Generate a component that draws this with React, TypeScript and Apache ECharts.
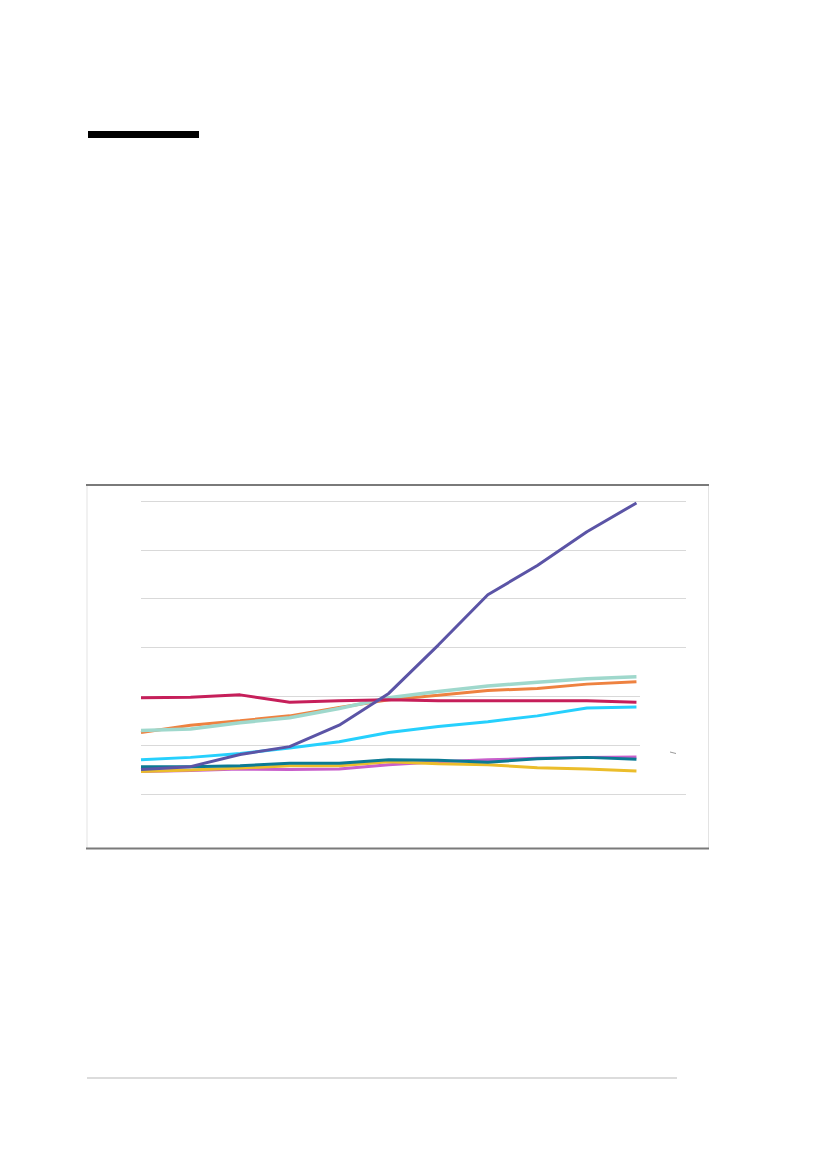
import { useEffect, useRef } from 'react';
import * as echarts from 'echarts';

// 12 slots on the x axis, the last one empty so the grid runs past the lines
const categories = ['1', '2', '3', '4', '5', '6', '7', '8', '9', '10', '11', '12'];

const yTicks = [0, 1, 2, 3, 4, 5, 6];

const orangeValues = [1.26, 1.41, 1.5, 1.6, 1.77, 1.93, 2.02, 2.12, 2.16, 2.25, 2.3];
const mintValues = [1.3, 1.33, 1.46, 1.56, 1.75, 1.97, 2.1, 2.21, 2.29, 2.36, 2.4];
const cyanValues = [0.7, 0.75, 0.83, 0.94, 1.07, 1.26, 1.38, 1.48, 1.6, 1.76, 1.78];
const magentaValues = [0.46, 0.48, 0.51, 0.5, 0.51, 0.6, 0.66, 0.7, 0.73, 0.75, 0.76];
const yellowValues = [0.46, 0.49, 0.53, 0.58, 0.58, 0.66, 0.62, 0.6, 0.54, 0.51, 0.47];
const tealValues = [0.56, 0.56, 0.58, 0.63, 0.63, 0.7, 0.69, 0.65, 0.72, 0.75, 0.71];
const redValues = [1.97, 1.98, 2.03, 1.88, 1.91, 1.93, 1.91, 1.91, 1.91, 1.91, 1.88];
const purpleValues = [0.5, 0.56, 0.81, 0.97, 1.41, 2.06, 3.05, 4.08, 4.68, 5.37, 5.96];

const seriesList = [
  { name: 'orange', color: '#ee8240', width: 3, data: orangeValues },
  { name: 'mint', color: '#9fd8cc', width: 3.5, data: mintValues },
  { name: 'cyan', color: '#26d0fd', width: 3, data: cyanValues },
  { name: 'magenta', color: '#c95fcb', width: 3, data: magentaValues },
  { name: 'yellow', color: '#ebbd2b', width: 3, data: yellowValues },
  { name: 'teal', color: '#0b7a93', width: 3, data: tealValues },
  { name: 'red', color: '#c61f5a', width: 3, data: redValues },
  { name: 'purple', color: '#5b54a6', width: 3, data: purpleValues },
];

function App() {
  const divEL = useRef<HTMLDivElement>(null);

  useEffect(() => {
    const instance = echarts.init(divEL.current as any, null, { renderer: 'svg' });

    const option: echarts.EChartsOption = {
      animation: false,
      backgroundColor: '#ffffff',
      grid: {
        left: 141,
        right: 827 - 686,
        top: 501,
        bottom: 1169 - 794,
        containLabel: false,
      },
      xAxis: {
        type: 'category',
        data: categories,
        boundaryGap: false,
        axisLine: { show: false },
        axisTick: { show: false },
        axisLabel: { show: false },
        splitLine: { show: false },
      },
      yAxis: {
        type: 'value',
        min: yTicks[0],
        max: yTicks[yTicks.length - 1],
        interval: 1,
        axisLine: { show: false },
        axisTick: { show: false },
        axisLabel: { show: false },
        splitLine: { lineStyle: { color: '#d9d9d9', width: 1 } },
      },
      series: seriesList.map((s) => ({
        name: s.name,
        type: 'line',
        data: s.data,
        showSymbol: false,
        symbol: 'none',
        lineStyle: { color: s.color, width: s.width },
        itemStyle: { color: s.color },
      })),
      graphic: [
        // heading bar
        { type: 'rect', shape: { x: 88, y: 131, width: 111, height: 7 }, style: { fill: '#000000' } },
        // chart frame
        { type: 'line', shape: { x1: 87, y1: 485, x2: 87, y2: 849 }, style: { stroke: '#e3e3e3', lineWidth: 1 } },
        { type: 'line', shape: { x1: 708.5, y1: 485, x2: 708.5, y2: 849 }, style: { stroke: '#e3e3e3', lineWidth: 1 } },
        { type: 'line', shape: { x1: 86, y1: 485, x2: 709, y2: 485 }, style: { stroke: '#7a7a7a', lineWidth: 2 } },
        { type: 'line', shape: { x1: 86, y1: 848.5, x2: 709, y2: 848.5 }, style: { stroke: '#7a7a7a', lineWidth: 2 } },
        // blank patch over two grid lines on the right
        { type: 'rect', z: 100, shape: { x: 640, y: 685, width: 50, height: 70 }, style: { fill: '#ffffff' } },
        { type: 'line', z: 101, shape: { x1: 670, y1: 752, x2: 676, y2: 753.5 }, style: { stroke: '#9a9a9a', lineWidth: 1 } },
        // footer rule
        { type: 'line', shape: { x1: 87, y1: 1078, x2: 677, y2: 1078 }, style: { stroke: '#dcdcdc', lineWidth: 2 } },
      ],
    };

    instance.setOption(option);

    return () => {
      instance.dispose();
    };
  }, []);

  return (
    <div
      ref={divEL}
      style={{ position: 'absolute', left: 0, top: 0, width: '827px', height: '1169px' }}
    ></div>
  );
}

export default App;
